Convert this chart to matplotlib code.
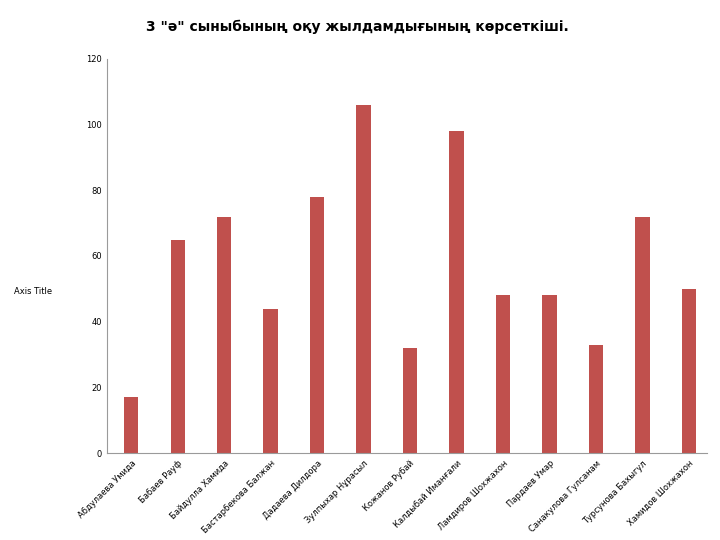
import matplotlib
matplotlib.use("Agg")
import matplotlib.pyplot as plt

names = ["Абдулаева Умида", "Бабаев Рауф", "Байдулла Хамида", "Бастарбекова Балжан",
         "Дадаева Дилдора", "Зулпыхар Нұрасыл", "Кожанов Рубай", "Калдыбай Иманғали",
         "Ламдиров Шохжахон", "Пардаев Умар", "Санакулова Гулсанам", "Турсунова Бахыгул",
         "Хамидов Шохжахон"]
values = [17, 65, 72, 44, 78, 106, 32, 98, 48, 48, 33, 72, 50]
yticks = [0, 20, 40, 60, 80, 100, 120]

plt.rcParams['font.family'] = ['DejaVu Sans']
fig = plt.figure(figsize=(7.2, 5.4), dpi=100)
ax = fig.add_axes([0.149, 0.161, 0.833, 0.730])
x = list(range(len(names)))
ax.bar(x, values, width=0.31, color="#C0504D")
ax.set_xlim(-0.516, len(names) - 0.61)
ax.set_ylim(0, 120)
ax.set_yticks(yticks)
ax.set_yticklabels([str(t) for t in yticks], fontsize=6)
ax.set_xticks(x)
ax.set_xticklabels(names, rotation=45, ha="right", rotation_mode="anchor", fontsize=6)
ax.tick_params(axis="both", length=0, pad=4)
for s in ["top", "right"]:
    ax.spines[s].set_visible(False)
for s in ["left", "bottom"]:
    ax.spines[s].set_color("#9A9A9A")
    ax.spines[s].set_linewidth(0.8)
fig.text(0.019, 0.46, "Axis Title", fontsize=6, ha="left", va="center")
fig.text(0.496, 0.950, '3 "ә" сыныбының оқу жылдамдығының көрсеткіші.', fontsize=10,
         fontweight="bold", ha="center", va="center")
fig.savefig("out.png", dpi=100)
